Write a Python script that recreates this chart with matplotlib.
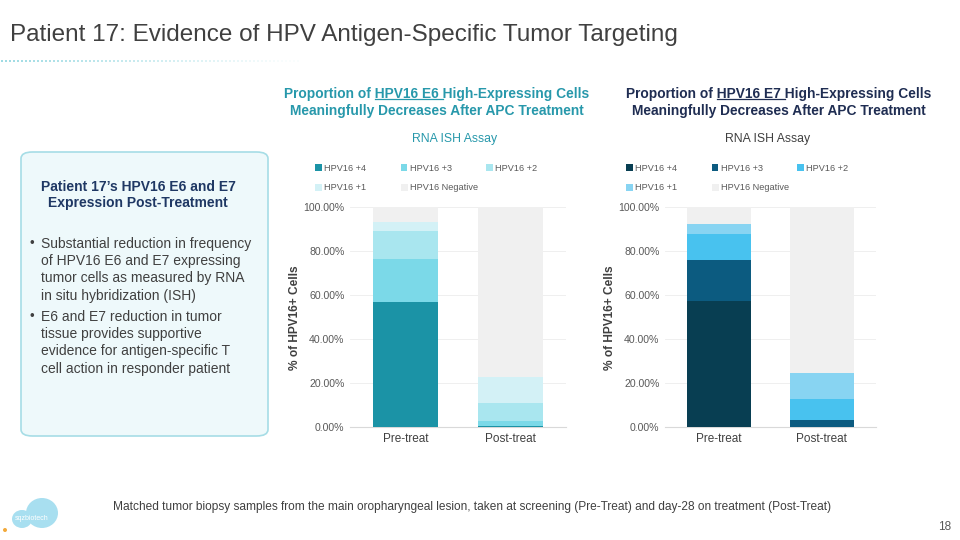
import matplotlib.pyplot as plt
from matplotlib.patches import FancyBboxPatch, Ellipse

plt.rcParams['font.family'] = ['Liberation Sans', 'DejaVu Sans']

# data (percent of cells)
groups = ['Pre-treat', 'Post-treat']
levels = ['HPV16 +4', 'HPV16 +3', 'HPV16 +2', 'HPV16 +1', 'HPV16 Negative']
e6_pos4 = [57.1, 0.5]
e6_pos3 = [19.6, 2.5]
e6_pos2 = [12.5, 8.2]
e6_pos1 = [4.3, 11.8]
e6_neg = [6.5, 77.0]
e7_pos4 = [57.4, 0.0]
e7_pos3 = [18.7, 3.3]
e7_pos2 = [11.8, 9.4]
e7_pos1 = [4.5, 12.0]
e7_neg = [7.6, 75.3]
yticks = [0, 20, 40, 60, 80, 100]

e6_colors = ['#1b93a6', '#7bd9e8', '#a9e6ef', '#d3f1f6', '#f0f0f0']
e7_colors = ['#083e52', '#0c5b80', '#48c2ef', '#88d4f2', '#f0f0f0']

W, H = 960, 540
fig = plt.figure(figsize=(9.6, 5.4), dpi=100)


def px(x, y):
    # pixel coords (top-left origin) -> figure fraction
    return x / W, 1 - y / H


def stacked(left_px, width_px, series, colors, leg_x):
    x0, y0 = px(left_px, 427.3)
    ax = fig.add_axes([x0, y0, width_px / W, 220 / H])
    bottom = [0, 0]
    bars = []
    for vals, col, lab in zip(series, colors, levels):
        b = ax.bar([0, 1], vals, 0.62, bottom=bottom, color=col, label=lab, zorder=3)
        bars.append(b)
        bottom = [bottom[i] + vals[i] for i in range(2)]
    ax.set_xlim(-0.527, 1.527)
    ax.set_ylim(0, 100)
    ax.set_yticks(yticks)
    ax.set_yticklabels(['%.2f%%' % v for v in yticks], fontsize=7.6, color='#595959')
    ax.set_xticks([0, 1])
    ax.set_xticklabels(groups, fontsize=8.5, color='#404040')
    ax.tick_params(length=0, pad=4)
    ax.grid(axis='y', color='#ececec', lw=0.6, zorder=0)
    for s in ['top', 'right', 'left']:
        ax.spines[s].set_visible(False)
    ax.spines['bottom'].set_color('#d9d9d9')
    ax.set_ylabel('% of HPV16+ Cells', fontsize=8.6, fontweight='bold', color='#404040', labelpad=2)
    # two legend rows, same column pitch
    rows = [([0, 1, 2], 168.5), ([3, 4], 188)]
    legs = []
    for idx, yrow in rows:
        leg = ax.legend([bars[i] for i in idx], [levels[i] for i in idx], ncol=len(idx),
                        loc='center left', bbox_to_anchor=px(leg_x, yrow),
                        bbox_transform=fig.transFigure, frameon=False,
                        fontsize=6.6, handlelength=0.75, handleheight=0.75, handletextpad=0.25,
                        columnspacing=3.75, borderpad=0, borderaxespad=0, labelcolor='#595959')
        legs.append(leg)
    ax.add_artist(legs[0])
    return ax


ax1 = stacked(350, 216, [e6_pos4, e6_pos3, e6_pos2, e6_pos1, e6_neg], e6_colors, 315)
ax2 = stacked(665, 211, [e7_pos4, e7_pos3, e7_pos2, e7_pos1, e7_neg], e7_colors, 626)

# slide title and dotted rule
fig.text(*px(10, 35), 'Patient 17: Evidence of HPV Antigen-Specific Tumor Targeting',
         fontsize=17.5, color='#404040', va='center', ha='left')
for i in range(75):
    fig.patches.append(Ellipse(px(2 + i * 4, 61), 1.6 / W, 1.6 / H, transform=fig.transFigure,
                               color='#3fb8c8', alpha=max(0.05, 1 - i / 75), lw=0))

# chart headings, with the underlined part
renderer = fig.canvas.get_renderer()


def heading(cx, line1_pre, line1_ul, line1_post, line2, color):
    full = line1_pre + line1_ul + line1_post
    t = fig.text(*px(cx, 94), full, fontsize=9.9, fontweight='bold', color=color,
                 ha='center', va='center')
    fig.text(*px(cx, 111), line2, fontsize=9.9, fontweight='bold', color=color,
             ha='center', va='center')
    bb = t.get_window_extent(renderer)
    probe = fig.text(0, 0, line1_pre, fontsize=9.9, fontweight='bold')
    w_pre = probe.get_window_extent(renderer).width
    probe.set_text(line1_pre + line1_ul)
    w_ul = probe.get_window_extent(renderer).width
    probe.remove()
    x_a = (bb.x0 + w_pre) / W
    x_b = (bb.x0 + w_ul) / W
    y_u = (bb.y0 + 2.5) / H
    fig.add_artist(plt.Line2D([x_a, x_b], [y_u, y_u], color=color, lw=0.9,
                              transform=fig.transFigure))


heading(437, 'Proportion of ', 'HPV16 E6 ', 'High-Expressing Cells',
        'Meaningfully Decreases After APC Treatment', '#2798ab')
heading(779, 'Proportion of ', 'HPV16 E7 ', 'High-Expressing Cells',
        'Meaningfully Decreases After APC Treatment', '#1f2d52')
fig.text(*px(455, 139), 'RNA ISH Assay', fontsize=8.8, color='#2798ab', ha='center', va='center')
fig.text(*px(768, 139), 'RNA ISH Assay', fontsize=8.8, color='#404040', ha='center', va='center')

# left callout box
x0, y0 = px(21, 436)
box = FancyBboxPatch((x0, y0), 247 / W, 284 / H, boxstyle='round,pad=0,rounding_size=0.012',
                     transform=fig.transFigure, facecolor='#eef9fb', edgecolor='#a6dde6', lw=1.2)
fig.patches.append(box)
fig.text(*px(138, 187), 'Patient 17\u2019s HPV16 E6 and E7', fontsize=10, fontweight='bold',
         color='#1f3864', ha='center', va='center')
fig.text(*px(138, 203), 'Expression Post-Treatment', fontsize=10, fontweight='bold',
         color='#1f3864', ha='center', va='center')
bullet1 = ['Substantial reduction in frequency', 'of HPV16 E6 and E7 expressing',
           'tumor cells as measured by RNA', 'in situ hybridization (ISH)']
bullet2 = ['E6 and E7 reduction in tumor', 'tissue provides supportive',
           'evidence for antigen-specific T', 'cell action in responder patient']
for lines, ystart in [(bullet1, 244), (bullet2, 317)]:
    fig.text(*px(30, ystart), '\u2022', fontsize=9.5, color='#404040', ha='left', va='center')
    for k, ln in enumerate(lines):
        fig.text(*px(41, ystart + k * 17.2), ln, fontsize=10, color='#404040',
                 ha='left', va='center')

# footer
fig.text(*px(113, 507), 'Matched tumor biopsy samples from the main oropharyngeal lesion, taken at '
         'screening (Pre-Treat) and day-28 on treatment (Post-Treat)',
         fontsize=8.6, color='#404040', ha='left', va='center')
fig.text(*px(951, 527), '18', fontsize=8.5, color='#595959', ha='right', va='center')
fig.patches.append(Ellipse(px(42, 513), 32 / W, 30 / H, transform=fig.transFigure,
                           color='#a8dff0', lw=0))
fig.patches.append(Ellipse(px(22, 519), 20 / W, 18 / H, transform=fig.transFigure,
                           color='#a8dff0', lw=0))
fig.text(*px(32, 518), 'sqzbiotech', fontsize=5, color='white', ha='center', va='center')
fig.patches.append(Ellipse(px(5, 530), 4 / W, 4 / H, transform=fig.transFigure,
                           color='#f2a93b', lw=0))

fig.savefig('out.png', dpi=100)
